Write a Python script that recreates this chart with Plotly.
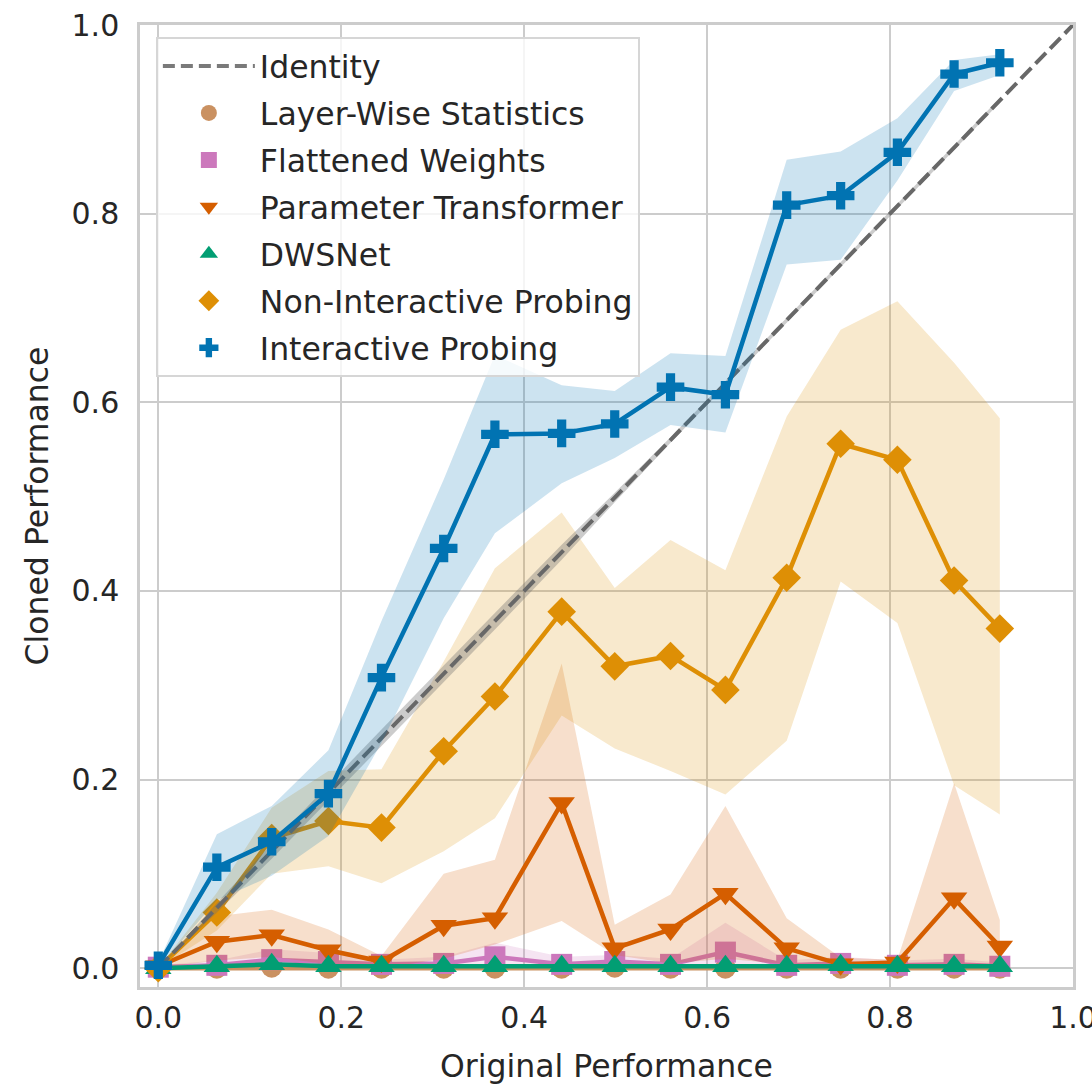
import plotly.graph_objects as go

# ---- data ----
x_vals = [0.0, 0.064, 0.124, 0.186, 0.244, 0.312, 0.368, 0.441, 0.499, 0.560, 0.620, 0.687, 0.746, 0.808, 0.870, 0.920]

ip_mean = [0.003, 0.107, 0.134, 0.185, 0.308, 0.445, 0.566, 0.567, 0.577, 0.616, 0.608, 0.809, 0.819, 0.865, 0.948, 0.960]
ip_lo   = [0.0, 0.072, 0.098, 0.140, 0.239, 0.371, 0.461, 0.514, 0.541, 0.576, 0.568, 0.746, 0.751, 0.835, 0.930, 0.947]
ip_hi   = [0.006, 0.142, 0.172, 0.231, 0.368, 0.518, 0.650, 0.618, 0.612, 0.652, 0.649, 0.857, 0.866, 0.901, 0.963, 0.969]

nip_mean = [0.0, 0.059, 0.138, 0.156, 0.149, 0.230, 0.288, 0.378, 0.320, 0.331, 0.295, 0.414, 0.556, 0.539, 0.411, 0.360]
nip_lo   = [0.0, 0.040, 0.100, 0.108, 0.090, 0.124, 0.159, 0.268, 0.233, 0.209, 0.184, 0.241, 0.410, 0.366, 0.194, 0.163]
nip_hi   = [0.0, 0.080, 0.170, 0.209, 0.211, 0.325, 0.424, 0.483, 0.403, 0.454, 0.422, 0.585, 0.677, 0.707, 0.642, 0.583]

pt_mean = [0.002, 0.028, 0.035, 0.019, 0.007, 0.045, 0.053, 0.175, 0.021, 0.041, 0.079, 0.021, 0.004, 0.006, 0.074, 0.023]
pt_lo   = [0.0, 0.008, 0.012, 0.004, 0.0, 0.010, 0.025, 0.050, 0.014, 0.005, 0.010, 0.004, 0.0, 0.0, 0.0, 0.0]
pt_hi   = [0.004, 0.055, 0.062, 0.041, 0.013, 0.100, 0.115, 0.323, 0.046, 0.078, 0.172, 0.053, 0.011, 0.009, 0.196, 0.051]

fw_mean = [0.001, 0.003, 0.009, 0.007, 0.004, 0.005, 0.012, 0.004, 0.007, 0.004, 0.017, 0.003, 0.005, 0.003, 0.004, 0.002]
fw_lo   = [0.0, 0.0, 0.002, 0.001, 0.0, 0.0, 0.003, 0.0, 0.001, 0.0, 0.002, 0.0, 0.0, 0.0, 0.0, 0.0]
fw_hi   = [0.003, 0.008, 0.020, 0.016, 0.009, 0.012, 0.027, 0.012, 0.014, 0.010, 0.048, 0.008, 0.012, 0.008, 0.010, 0.006]

dws_mean = [0.0, 0.002, 0.004, 0.002, 0.002, 0.002, 0.002, 0.002, 0.002, 0.002, 0.002, 0.002, 0.003, 0.002, 0.002, 0.002]
dws_lo   = [0.0, 0.001, 0.002, 0.001, 0.001, 0.001, 0.001, 0.001, 0.001, 0.001, 0.001, 0.001, 0.001, 0.001, 0.001, 0.001]
dws_hi   = [0.001, 0.004, 0.006, 0.004, 0.003, 0.003, 0.003, 0.003, 0.003, 0.003, 0.003, 0.003, 0.005, 0.003, 0.003, 0.003]

lws_mean = [0.0, 0.0, 0.001, 0.0, 0.0, 0.0, 0.0, 0.0, 0.001, 0.0, 0.0, 0.0, 0.0, 0.0, 0.0, 0.0]
lws_lo   = [0.0] * 16
lws_hi   = [0.001, 0.002, 0.004, 0.002, 0.002, 0.002, 0.002, 0.002, 0.003, 0.002, 0.002, 0.002, 0.002, 0.002, 0.002, 0.002]

identity_x = [0.0, 1.0]
identity_halfwidth = [0.0, 0.005, 0.008, 0.009, 0.009, 0.009, 0.009, 0.008, 0.005, 0.003, 0.0025, 0.0025, 0.0025, 0.0025, 0.0025, 0.0025]

series_names = ["Layer-Wise Statistics", "Flattened Weights", "Parameter Transformer",
                "DWSNet", "Non-Interactive Probing", "Interactive Probing"]
series_colors = ["#ca9161", "#cc78bc", "#d55e00", "#029e73", "#de8f05", "#0173b2"]
series_symbols = ["circle", "square", "triangle-down", "triangle-up", "diamond", "cross"]
series_sizes = [21, 21, 23, 23, 22, 23]

means = [lws_mean, fw_mean, pt_mean, dws_mean, nip_mean, ip_mean]
los = [lws_lo, fw_lo, pt_lo, dws_lo, nip_lo, ip_lo]
his = [lws_hi, fw_hi, pt_hi, dws_hi, nip_hi, ip_hi]

FONT = "DejaVu Sans"
TXT = "#262626"


def rgba(hexc, a):
    h = hexc.lstrip("#")
    r, g, b = int(h[0:2], 16), int(h[2:4], 16), int(h[4:6], 16)
    return f"rgba({r},{g},{b},{a})"


fig = go.Figure()


def add_series(i):
    c = series_colors[i]
    fig.add_trace(go.Scatter(
        x=x_vals + x_vals[::-1], y=his[i] + los[i][::-1],
        fill="toself", fillcolor=rgba(c, 0.2), line=dict(width=0),
        mode="lines", hoverinfo="skip", showlegend=False))
    fig.add_trace(go.Scatter(
        x=x_vals, y=means[i], mode="lines+markers",
        line=dict(color=c, width=4.5),
        marker=dict(symbol=series_symbols[i], size=series_sizes[i], color=c, line=dict(width=0)),
        showlegend=False, name=series_names[i]))


for i in range(5):
    add_series(i)

# identity band + dashed identity line
id_lo = [xv - w for xv, w in zip(x_vals, identity_halfwidth)]
id_hi = [xv + w for xv, w in zip(x_vals, identity_halfwidth)]
fig.add_trace(go.Scatter(
    x=x_vals + x_vals[::-1], y=id_hi + id_lo[::-1],
    fill="toself", fillcolor="rgba(110,110,110,0.35)", line=dict(width=0),
    mode="lines", hoverinfo="skip", showlegend=False))
fig.add_trace(go.Scatter(
    x=identity_x, y=identity_x, mode="lines",
    line=dict(color="#686868", width=4, dash="15px,6px"),
    showlegend=False, name="Identity"))

add_series(5)

# legend entries
fig.add_trace(go.Scatter(x=[None], y=[None], mode="lines", name="Identity",
                         line=dict(color="#7a7a7a", width=4, dash="12px,6px"),
                         legendgroup="g0"))
for i in range(6):
    fig.add_trace(go.Scatter(
        x=[None], y=[None], mode="markers", name=series_names[i],
        marker=dict(symbol=series_symbols[i], size=series_sizes[i], color=series_colors[i]),
        legendgroup=f"g{i+1}"))

ticks = [0.0, 0.2, 0.4, 0.6, 0.8, 1.0]
tick_text = [f"{t:.1f}" for t in ticks]

axis_common = dict(
    range=[-0.02, 1.0], tickvals=ticks, ticktext=tick_text,
    showgrid=True, gridcolor="#cccccc", gridwidth=2,
    showline=True, linecolor="#cccccc", linewidth=2.5, mirror=True,
    zeroline=False, ticks="", tickfont=dict(family=FONT, size=30, color=TXT),
    ticklabeloverflow="allow", automargin=False,
)

fig.update_layout(
    width=1092, height=1086,
    margin=dict(l=140, r=19, t=25, b=99),
    paper_bgcolor="white", plot_bgcolor="white",
    font=dict(family=FONT, color=TXT),
    xaxis=dict(**axis_common, title=dict(text="Original Performance",
                                         font=dict(family=FONT, size=31.5, color=TXT), standoff=22),
               ticklabelstandoff=2),
    yaxis=dict(**axis_common, title=dict(text="Cloned Performance",
                                         font=dict(family=FONT, size=31.5, color=TXT), standoff=14),
               ticklabelstandoff=12),
    legend=dict(x=0.017, y=0.9875, xanchor="left", yanchor="top",
                bgcolor="rgba(255,255,255,0.8)", bordercolor="#d6d6d6", borderwidth=2,
                font=dict(family=FONT, size=31.5, color=TXT),
                traceorder="grouped", tracegroupgap=3, itemwidth=92),
    showlegend=True,
)

fig.write_html("out.html")
